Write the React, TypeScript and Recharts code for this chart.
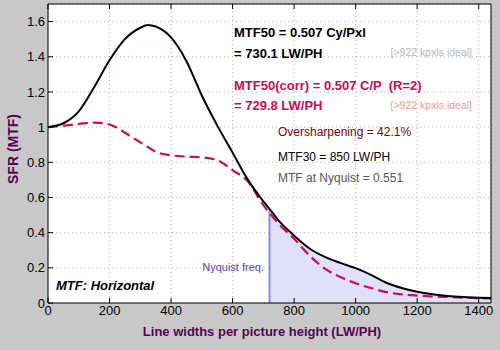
import {
  ComposedChart,
  Line,
  Area,
  XAxis,
  YAxis,
  CartesianGrid,
  ReferenceLine,
} from 'recharts';

// spatial frequency in LW/PH
const freqs = [
  0, 50, 100, 150, 200, 250, 300, 325, 350, 400, 450, 500, 550, 600, 650, 700, 720, 750, 800, 850,
  900, 950, 1000, 1050, 1100, 1150, 1200, 1250, 1300, 1350, 1400, 1440,
];
// measured MTF (black)
const mtf = [
  1.0, 1.022, 1.09, 1.227, 1.38, 1.5, 1.565, 1.581, 1.572, 1.51, 1.375, 1.18, 1.01, 0.855, 0.7,
  0.578, 0.535, 0.468, 0.383, 0.31, 0.262, 0.228, 0.198, 0.16, 0.115, 0.085, 0.064, 0.05, 0.04,
  0.034, 0.03, 0.028,
];
// corrected MTF, R=2 (red dashed)
const corr = [
  1.0, 1.008, 1.018, 1.026, 1.015, 0.968, 0.913, 0.886, 0.86, 0.84, 0.832, 0.828, 0.812, 0.755,
  0.69, 0.556, 0.512, 0.45, 0.365, 0.27, 0.195, 0.148, 0.112, 0.085, 0.062, 0.049, 0.042, 0.037,
  0.034, 0.031, 0.028, 0.026,
];
// faint reference curve (pink dotted)
const faint = [
  1.0, 1.03, 1.07, 1.16, 1.28, 1.39, 1.46, 1.482, 1.475, 1.42, 1.31, 1.16, 1.0, 0.85, null, null,
  null, null, null, null, null, null, null, null, null, null, null, null, null, null, null, null,
];

const xTicks = [0, 200, 400, 600, 800, 1000, 1200, 1400];
const yTicks = [0, 0.2, 0.4, 0.6, 0.8, 1, 1.2, 1.4, 1.6];
const nyquist = 720;

const data = freqs.map((f, i) => ({
  f,
  mtf: mtf[i],
  corr: corr[i],
  faint: faint[i],
  shade: f >= nyquist ? mtf[i] : null,
}));
const nyqValue = mtf[freqs.indexOf(nyquist)];

const FONT = '"Liberation Sans", Arial, sans-serif';
const RED = '#cc0a55';
const PURPLE = '#5a0058';

export default function App() {
  return (
    <div
      style={{
        position: 'absolute',
        left: 0,
        top: 0,
        width: 500,
        height: 350,
        background: '#c8c8c8',
        fontFamily: FONT,
      }}
    >
      <ComposedChart
        width={500}
        height={350}
        data={data}
        margin={{ top: 3, right: 8, bottom: 0, left: 0 }}
      >
        <CartesianGrid fill="#ffffff" stroke="#b4b4b4" strokeDasharray="1 3" />
        <XAxis
          dataKey="f"
          type="number"
          domain={[0, 1440]}
          ticks={xTicks}
          height={47}
          tickSize={-5}
          tickMargin={8}
          stroke="#000"
          tick={{ fill: '#000', fontSize: 13, fontFamily: FONT }}
        />
        <XAxis
          xAxisId="top"
          orientation="top"
          dataKey="f"
          type="number"
          domain={[0, 1440]}
          ticks={xTicks}
          height={1}
          tickSize={-5}
          stroke="#000"
          tickFormatter={() => ''}
        />
        <YAxis
          type="number"
          domain={[0, 1.7]}
          ticks={yTicks}
          width={48}
          tickSize={-5}
          tickMargin={8}
          stroke="#000"
          tick={{ fill: '#000', fontSize: 13, fontFamily: FONT }}
        />
        <YAxis
          yAxisId="right"
          orientation="right"
          type="number"
          domain={[0, 1.7]}
          ticks={yTicks}
          width={1}
          tickSize={-5}
          stroke="#000"
          tickFormatter={() => ''}
        />
        <Area
          dataKey="shade"
          type="monotone"
          stroke="none"
          fill="#e0e0fa"
          fillOpacity={1}
          isAnimationActive={false}
        />
        <ReferenceLine
          segment={[
            { x: nyquist, y: 0 },
            { x: nyquist, y: nyqValue },
          ]}
          stroke="#8c8ce6"
          strokeWidth={2}
        />
        <Line
          dataKey="faint"
          type="monotone"
          stroke="#f6dce6"
          strokeWidth={1}
          strokeDasharray="1 3"
          dot={false}
          isAnimationActive={false}
        />
        <Line
          dataKey="corr"
          type="monotone"
          stroke={RED}
          strokeWidth={2.2}
          strokeDasharray="10 5"
          dot={false}
          isAnimationActive={false}
        />
        <Line
          dataKey="mtf"
          type="monotone"
          stroke="#000"
          strokeWidth={2}
          dot={false}
          isAnimationActive={false}
        />
      </ComposedChart>
      <svg
        width={500}
        height={350}
        style={{ position: 'absolute', left: 0, top: 0, pointerEvents: 'none' }}
        fontFamily={FONT}
      >
        <text x={234} y={37} fontSize={13} fontWeight="bold" fill="#000">
          MTF50 = 0.507 Cy/Pxl
        </text>
        <text x={234} y={58} fontSize={13} fontWeight="bold" fill="#000">
          = 730.1 LW/PH
        </text>
        <text x={472} y={56} fontSize={10.5} fill="#b8b8b8" textAnchor="end">
          [&gt;922 kpxls ideal]
        </text>
        <text x={234} y={90} fontSize={13} fontWeight="bold" fill={RED} xmlSpace="preserve">
          MTF50(corr) = 0.507 C/P  (R=2)
        </text>
        <text x={234} y={110} fontSize={13} fontWeight="bold" fill={RED}>
          = 729.8 LW/PH
        </text>
        <text x={472} y={109} fontSize={10.5} fill="#f0a090" textAnchor="end">
          [&gt;922 kpxls ideal]
        </text>
        <text x={278} y={136} fontSize={12} fill="#800000">
          Oversharpening = 42.1%
        </text>
        <text x={278} y={161} fontSize={12} fill="#000">
          MTF30 = 850 LW/PH
        </text>
        <text x={278} y={182} fontSize={12} fill="#555555">
          MTF at Nyquist = 0.551
        </text>
        <text x={264} y={271} fontSize={11} fill="#4848c8" textAnchor="end">
          Nyquist freq.
        </text>
        <text x={56} y={290} fontSize={13} fontWeight="bold" fontStyle="italic" fill="#000">
          MTF: Horizontal
        </text>
        <text x={262} y={336} fontSize={13} fontWeight="bold" fill={PURPLE} textAnchor="middle">
          Line widths per picture height (LW/PH)
        </text>
        <text
          x={18}
          y={149}
          fontSize={14}
          fontWeight="bold"
          fill={PURPLE}
          textAnchor="middle"
          transform="rotate(-90 18 149)"
        >
          SFR (MTF)
        </text>
      </svg>
    </div>
  );
}
